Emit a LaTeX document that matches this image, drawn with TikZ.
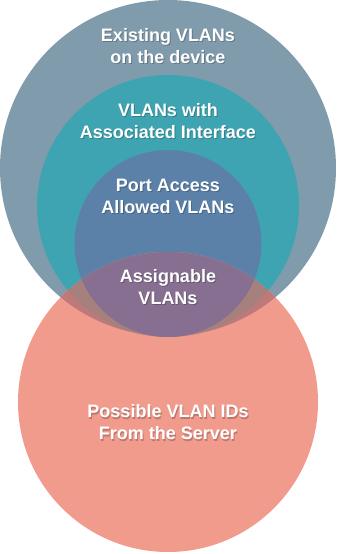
\documentclass[tikz,border=0pt]{standalone}
\usepackage{fontspec}
\setmainfont{Liberation Sans}
\usetikzlibrary{positioning}

\definecolor{existfill}{HTML}{809BAC}
\definecolor{assocfill}{HTML}{3EA4B1}
\definecolor{portfill}{HTML}{5B81A9}
\definecolor{serverfill}{HTML}{F19B8D}
\definecolor{existover}{HTML}{BE7A7A}
\definecolor{assocover}{HTML}{A5807C}
\definecolor{portover}{HTML}{866F90}

\begin{document}
\begin{tikzpicture}[
    x=1pt, y=-1pt,
    lbl/.style={text=white, align=center, inner sep=0pt,
                font=\bfseries\fontsize{18}{22}\selectfont},
    shade lbl/.style={text=black, opacity=0.22, align=center, inner sep=0pt,
                font=\bfseries\fontsize{18}{22}\selectfont}
  ]
  \useasboundingbox (0,0) rectangle (339,554);

  % nested circles
  \fill[existfill] (168,168) circle[radius=168pt];
  \fill[assocfill] (168,206) circle[radius=131pt];
  \fill[portfill] (168,243.5) circle[radius=93.5pt];
  \fill[serverfill] (168,402) circle[radius=150pt];

  % overlaps with the server set
  \begin{scope}
    \clip (168,402) circle[radius=150pt];
    \fill[existover] (168,168) circle[radius=168pt];
    \fill[assocover] (168,206) circle[radius=131pt];
    \fill[portover] (168,243.5) circle[radius=93.5pt];
  \end{scope}

  % labels
  \foreach \name/\ypos/\txt in {exist/46/{Existing VLANs\\on the device},
                                assoc/121/{VLANs with\\Associated Interface},
                                port/196/{Port Access\\Allowed VLANs},
                                assign/287/{Assignable\\VLANs},
                                server/422.5/{Possible VLAN IDs\\From the Server}} {
    \node[shade lbl] at (169,\ypos+1.2) {\txt};
    \node[lbl] (\name) at (168,\ypos) {\txt};
  }
\end{tikzpicture}
\end{document}
